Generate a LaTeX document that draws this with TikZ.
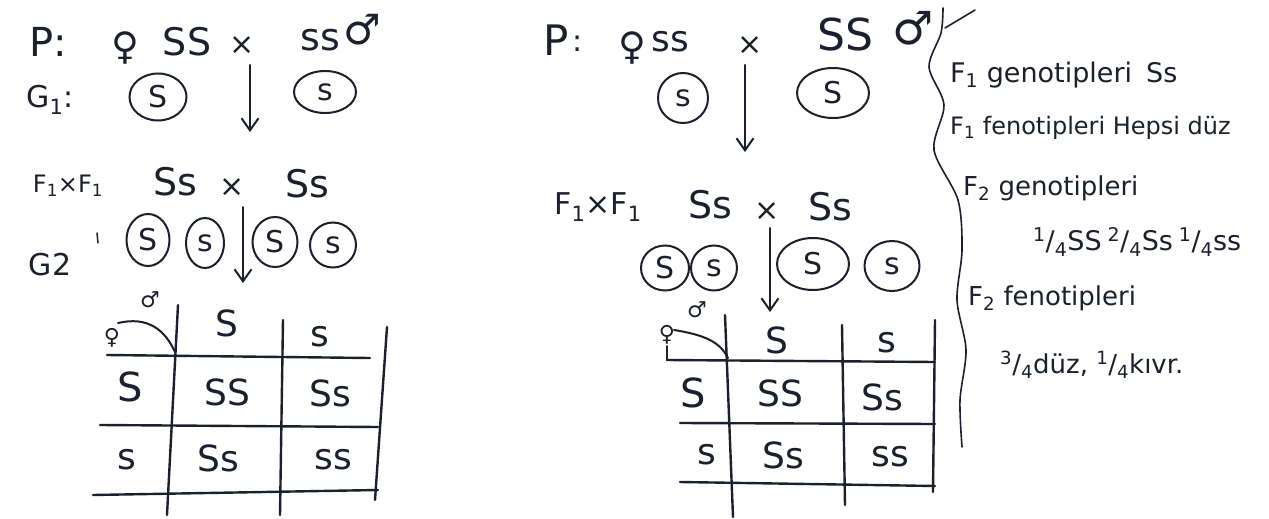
\documentclass[tikz,border=0pt]{standalone}
\usepackage{fontspec}
\setmainfont{DejaVu Sans}
\usetikzlibrary{arrows.meta,shapes.geometric}
\definecolor{ink}{RGB}{28,32,46}
\newcommand\hwsize[1]{\fontsize{#1}{#1}\selectfont}
\newcommand\frc[2]{\textsuperscript{#1}/\textsubscript{#2}}
\tikzset{
  hw/.style={text=ink, inner sep=0pt},
  big/.style={hw, font=\hwsize{36}},
  mid/.style={hw, font=\hwsize{30}},
  small/.style={hw, font=\hwsize{22}},
  note/.style={hw, font=\hwsize{26}, anchor=west},
  gam/.style={draw=ink, ellipse, line width=2pt, inner sep=0pt, text=ink, font=\hwsize{30}},
  ln/.style={draw=ink, line width=2pt, line cap=round},
  arr/.style={ln, -{Straight Barb[length=12pt,width=17pt,line width=2pt]}},
  grid/.style={draw=ink, line width=2.4pt, line cap=round},
}
\begin{document}
\begin{tikzpicture}[x=1pt,y=-1pt]
\useasboundingbox[fill=white] (0,0) rectangle (1269,519);

% ---------------- left part ----------------
\node[hw, font=\hwsize{40}] (pL) at (48,42) {P:};
\node[hw, font=\hwsize{38}] (femL) at (125,48) {♀};
\node[hw, font=\hwsize{38}] (SSL) at (187,42) {SS};
\node[mid] (xL) at (242,46) {×};
\node[hw, font=\hwsize{38}] (ssL) at (320,40) {ss};
\node[hw, font=\hwsize{42}] (maleL) at (362,30) {♂};

\node[hw, font=\hwsize{30}] (g1L) at (50,100) {G\textsubscript{1}:};
\node[gam, minimum width=57pt, minimum height=47pt] (gS1L) at (158,97) {S};
\node[gam, minimum width=62pt, minimum height=42pt] (gs1L) at (325,92) {s};
\coordinate (a1t) at (250,65); \coordinate (a1b) at (250,132);
\draw[arr] (a1t) -- (a1b);

\node[hw, font=\hwsize{24}] (f1L) at (68,186) {F\textsubscript{1}×F\textsubscript{1}};
\node[hw, font=\hwsize{38}] (Ss1L) at (175,182) {Ss};
\node[mid] (x2L) at (232,188) {×};
\node[hw, font=\hwsize{38}] (Ss2L) at (307,184) {Ss};

\node[hw, font=\hwsize{30}] (g2L) at (50,265) {G2};
\coordinate (tk1) at (97,233); \coordinate (tk2) at (98,243);
\draw[ln, line width=1.5pt] (tk1) -- (tk2);
\node[gam, minimum width=43pt, minimum height=52pt] (gaL) at (148,240) {S};
\node[gam, minimum width=38pt, minimum height=50pt] (gbL) at (205,243) {s};
\node[gam, minimum width=45pt, minimum height=50pt] (gcL) at (275,242) {S};
\node[gam, minimum width=46pt, minimum height=45pt] (gdL) at (333,245) {s};
\coordinate (a2t) at (243,207); \coordinate (a2b) at (243,283);
\draw[arr] (a2t) -- (a2b);

% Punnett square (left)
\draw[grid] (178,305) -- (167,515);
\draw[grid] (283,320) -- (280,515);
\draw[grid] (387,327) -- (375,500);
\draw[grid] (107,355) -- (370,358);
\draw[grid] (100,425) -- (378,427);
\draw[grid] (93,495) -- (378,490);
\node[small] (cfL) at (112,338) {♀};
\node[small] (cmL) at (150,300) {♂};
\coordinate (cvL1) at (118,323); \coordinate (cvL2) at (175,352);
\draw[ln] (cvL1) .. controls (148,316) and (165,330) .. (cvL2);
\node[big] (hSL) at (227,323) {S};
\node[big] (hsL) at (320,337) {s};
\node[hw, font=\hwsize{40}] (r1L) at (130,387) {S};
\node[big] (c11L) at (227,392) {SS};
\node[big] (c12L) at (330,393) {Ss};
\node[big] (r2L) at (127,460) {s};
\node[big] (c21L) at (218,458) {Ss};
\node[big] (c22L) at (333,460) {ss};

% ---------------- middle part ----------------
\node[hw, font=\hwsize{42}] (pM) at (556,40) {P};
\node[hw, font=\hwsize{30}] (colM) at (578,44) {:};
\node[hw, font=\hwsize{38}] (femM) at (632,48) {♀};
\node[big] (ssM) at (670,42) {ss};
\node[mid] (xM) at (750,46) {×};
\node[hw, font=\hwsize{44}] (SSM) at (845,34) {SS};
\node[hw, font=\hwsize{46}] (maleM) at (913,28) {♂};

\node[gam, minimum width=50pt, minimum height=50pt] (gs1M) at (683,98) {s};
\node[gam, minimum width=72pt, minimum height=50pt] (gS1M) at (833,93) {S};
\coordinate (a3t) at (745,65); \coordinate (a3b) at (745,152);
\draw[arr] (a3t) -- (a3b);

\node[hw, font=\hwsize{30}] (f1M) at (598,207) {F\textsubscript{1}×F\textsubscript{1}};
\node[hw, font=\hwsize{38}] (Ss1M) at (710,205) {Ss};
\node[mid] (x2M) at (767,212) {×};
\node[hw, font=\hwsize{38}] (Ss2M) at (830,207) {Ss};

\node[gam, minimum width=48pt, minimum height=45pt] (gaM) at (665,268) {S};
\node[gam, minimum width=46pt, minimum height=45pt] (gbM) at (714,268) {s};
\node[gam, minimum width=72pt, minimum height=52pt] (gcM) at (813,264) {S};
\node[gam, minimum width=55pt, minimum height=50pt] (gdM) at (892,266) {s};
\coordinate (a4t) at (770,228); \coordinate (a4b) at (770,312);
\draw[arr] (a4t) -- (a4b);

% Punnett square (middle)
\draw[grid] (725,315) -- (733,517);
\draw[grid] (842,325) -- (845,505);
\draw[grid] (935,320) -- (933,492);
\draw[grid] (667,360) -- (935,362);
\draw[grid] (680,423) -- (935,424);
\draw[grid] (680,482) -- (935,486);
\node[small] (cfM) at (667,335) {♀};
\node[small] (cmM) at (697,310) {♂};
\coordinate (cvM0) at (667,346); \coordinate (cvM3) at (667,360);
\draw[ln] (cvM0) -- (cvM3);
\coordinate (cvM1) at (674,330); \coordinate (cvM2) at (728,358);
\draw[ln] (cvM1) .. controls (705,335) and (720,342) .. (cvM2);
\node[big] (hSM) at (777,340) {S};
\node[big] (hsM) at (887,343) {s};
\node[hw, font=\hwsize{40}] (r1M) at (693,393) {S};
\node[big] (c11M) at (780,393) {SS};
\node[big] (c12M) at (882,397) {Ss};
\node[big] (r2M) at (707,455) {s};
\node[big] (c21M) at (783,455) {Ss};
\node[big] (c22M) at (890,457) {ss};

% ---------------- separator ----------------
\draw[ln, line width=1.6pt] plot[smooth] coordinates {(943,8) (941,33) (929,67) (944,105) (934,150) (958,200) (962,250) (957,300) (966,350) (960,400) (962,447)};
\coordinate (y1) at (945,28); \coordinate (y2) at (975,10);
\draw[ln, line width=1.6pt] (y1) -- (y2);

% ---------------- notes ----------------
\node[note, font=\hwsize{27}] (n1) at (950,75) {F\textsubscript{1} genotipleri\hspace{14pt}Ss};
\node[note, font=\hwsize{24}] (n2) at (950,128) {F\textsubscript{1} fenotipleri Hepsi düz};
\node[note] (n3) at (963,188) {F\textsubscript{2} genotipleri};
\node[note, font=\hwsize{27}] (n4) at (1033,242) {\frc14SS\hspace{6pt}\frc24Ss\hspace{6pt}\frc14ss};
\node[note] (n5) at (968,298) {F\textsubscript{2} fenotipleri};
\node[note] (n6) at (1000,365) {\frc34düz, \frc14kıvr.};
\end{tikzpicture}
\end{document}
